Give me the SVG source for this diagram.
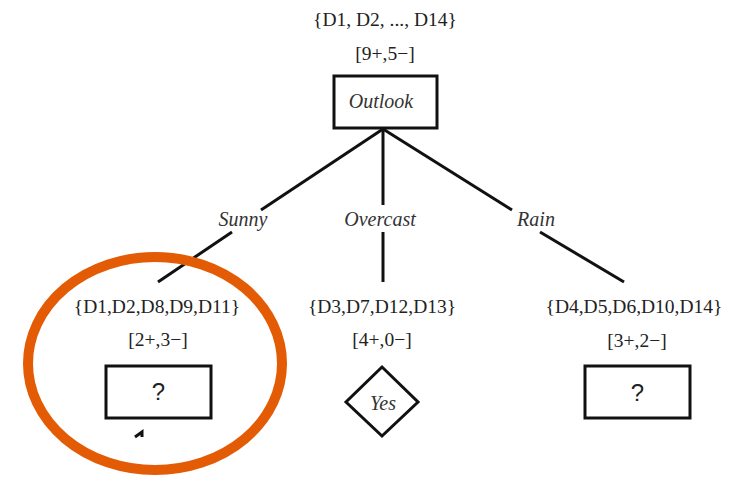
<svg xmlns="http://www.w3.org/2000/svg" width="737" height="477" viewBox="0 0 737 477">
  <style>
    .set { font-family: "Liberation Serif", "Times New Roman", serif; font-size: 19.5px; fill: #222; text-anchor: middle; }
    .lbl { font-family: "Liberation Serif", "Times New Roman", serif; font-style: italic; font-size: 20px; fill: #333; text-anchor: middle; }
    .q { font-family: "Liberation Sans", Arial, sans-serif; font-size: 24px; fill: #222; text-anchor: middle; }
    .box { fill: #fff; stroke: #111; stroke-width: 3; }
    .edge { stroke: #111; stroke-width: 3; fill: none; stroke-linecap: butt; }
  </style>
  <rect width="737" height="477" fill="#fff"/>

  <!-- branches from the Outlook node, broken around their value labels -->
  <g id="connectors">
    <line class="edge" x1="383" y1="129" x2="261" y2="210"/>
    <line class="edge" x1="232" y1="232" x2="158" y2="282"/>
    <line class="edge" x1="383" y1="129" x2="383" y2="205"/>
    <line class="edge" x1="383" y1="232" x2="383" y2="282"/>
    <line class="edge" x1="383" y1="129" x2="512" y2="210"/>
    <line class="edge" x1="540" y1="232" x2="624" y2="282"/>
    <text class="lbl" x="243" y="226">Sunny</text>
    <text class="lbl" x="380" y="226">Overcast</text>
    <text class="lbl" x="536" y="226">Rain</text>
    <path class="edge" d="M135 437 L142 432 L142 437" stroke-width="2"/>
  </g>

  <g id="root">
    <text class="set" x="385" y="26">{D1, D2, ..., D14}</text>
    <text class="set" x="385" y="60">[9+,5−]</text>
    <rect class="box" x="334" y="76" width="103" height="52"/>
    <text class="lbl" x="381" y="108">Outlook</text>
  </g>

  <g id="sunny">
    <text class="set" x="157" y="313">{D1,D2,D8,D9,D11}</text>
    <text class="set" x="158" y="346">[2+,3−]</text>
    <rect class="box" x="106" y="366" width="105" height="52"/>
    <text class="q" x="158.5" y="400">?</text>
  </g>

  <g id="overcast">
    <text class="set" x="382" y="313">{D3,D7,D12,D13}</text>
    <text class="set" x="382" y="346">[4+,0−]</text>
    <polygon class="box" points="382,367 418,402 382,436 346,402"/>
    <text class="lbl" x="383" y="410">Yes</text>
  </g>

  <g id="rain">
    <text class="set" x="634" y="313">{D4,D5,D6,D10,D14}</text>
    <text class="set" x="637" y="347">[3+,2−]</text>
    <rect class="box" x="585" y="366" width="105" height="52"/>
    <text class="q" x="637.5" y="401">?</text>
  </g>

  <!-- highlight around the Sunny subtree -->
  <g id="highlight">
    <ellipse cx="155" cy="363.5" rx="127" ry="106.5" fill="none" stroke="#E35B04" stroke-width="10"/>
  </g>
</svg>
